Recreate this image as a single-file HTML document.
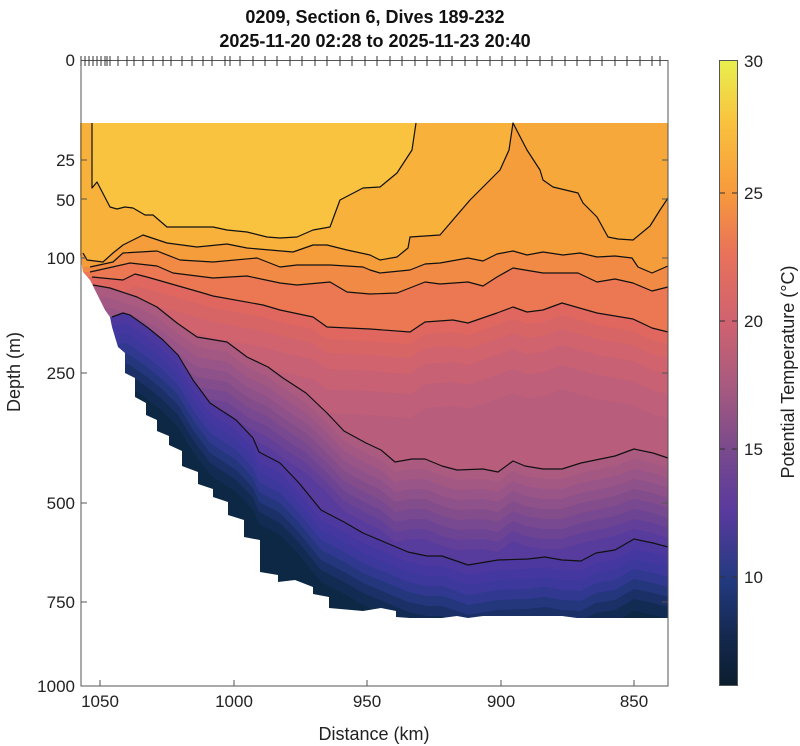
<!DOCTYPE html>
<html><head><meta charset="utf-8"><style>
html,body{margin:0;background:#fff;width:800px;height:746px;overflow:hidden}
svg{display:block;font-family:"Liberation Sans",sans-serif}
</style></head><body>
<svg width="800" height="746" viewBox="0 0 800 746" xmlns="http://www.w3.org/2000/svg">
<defs>
<linearGradient id="cb" x1="0" y1="60" x2="0" y2="686" gradientUnits="userSpaceOnUse">
<stop offset="0" stop-color="#e8f04e"/>
<stop offset="0.1" stop-color="#f9c23e"/>
<stop offset="0.21" stop-color="#f79a3c"/>
<stop offset="0.31" stop-color="#e8725a"/>
<stop offset="0.42" stop-color="#cf6270"/>
<stop offset="0.52" stop-color="#a85a7f"/>
<stop offset="0.62" stop-color="#7a4a8c"/>
<stop offset="0.72" stop-color="#5a3a9e"/>
<stop offset="0.83" stop-color="#233a80"/>
<stop offset="0.92" stop-color="#14284f"/>
<stop offset="1" stop-color="#0b1e2e"/>
</linearGradient>
<path id="A" d="M93,285 L110,288 137,297 157,307 177,323 197,337 227,342 247,357 268,367 283,378 306,393 327,413 344,431 366,443 381,450 395,462 412,459 425,459 442,466 457,470 483,469 498,472 513,461 525,466 543,469 562,469 581,463 615,456 634,449 653,453 668,458 L668,720 80,720 80,285Z"/>
<path id="B" d="M112,317 L123,313 130,315 147,327 163,340 178,355 193,380 210,403 236,420 253,438 259,452 280,463 299,483 321,510 344,522 363,533 408,552 427,556 442,556 468,565 498,560 528,559 545,557 562,560 581,561 596,553 615,550 634,539 653,543 668,547 L668,720 80,720 80,317Z"/>
<path id="L5" d="M92,277 L123,280 135,274 147,277 203,293 213,296 263,305 280,310 313,317 327,327 370,329 410,332 425,322 453,320 468,323 497,313 513,307 527,312 543,310 562,303 597,313 633,319 652,328 668,332 L668,720 80,720 80,277Z"/>
</defs>
<rect x="81" y="123" width="587" height="563" fill="#f9c23f"/>
<path d="M92,123 L92,188 97,182 110,207 117,209 125,207 133,208 145,215 153,215 167,227 197,227 213,227 227,230 247,232 267,237 280,238 297,237 313,230 330,227 340,200 363,188 380,187 397,173 412,150 416,123 L668,123 668,720 80,720 80,123Z" fill="#f8b23c"/>
<path d="M513,123 L527,150 540,170 543,180 553,187 578,193 583,203 597,217 608,237 618,239 633,240 650,226 660,210 668,198 668,123Z" fill="#f7a83a"/>
<path d="M83,253 L87,260 103,262 113,253 123,245 143,235 167,243 197,247 227,244 247,248 293,252 313,245 327,245 347,250 370,255 380,260 397,257 408,248 410,237 440,235 470,200 500,170 509,150 513,123 527,150 540,170 543,180 553,187 578,193 583,203 597,217 608,237 618,239 633,240 650,226 660,210 668,198 L668,720 80,720 80,253Z" fill="#f59c3b"/>
<path d="M90,267 L113,262 123,253 157,251 180,260 213,262 257,258 280,267 297,265 330,265 363,267 370,270 380,273 410,270 425,264 440,263 468,258 483,261 497,254 513,251 527,255 543,252 563,255 580,253 597,257 615,256 632,258 638,267 652,273 668,266 L668,720 80,720 80,267Z" fill="#f18a44"/>
<path d="M90,272 L130,263 157,266 173,273 213,278 247,276 280,283 297,285 330,282 347,292 370,294 397,293 425,282 440,284 468,282 483,286 497,277 513,268 543,273 578,273 597,282 615,279 633,283 652,291 668,287 L668,720 80,720 80,272Z" fill="#eb7852"/>
<use href="#L5" fill="#e0675f"/>
<use href="#L5" fill="#d86566" transform="translate(0,12)"/>
<use href="#L5" fill="#d0636e" transform="translate(0,26)"/>
<use href="#L5" fill="#c86174" transform="translate(0,42)"/>
<use href="#L5" fill="#c05f79" transform="translate(0,62)"/>
<use href="#L5" fill="#b85d7c" transform="translate(0,86)"/>
<use href="#A" fill="#ab5a80"/>
<use href="#A" fill="#a35884" transform="translate(0,10)"/>
<use href="#A" fill="#995587" transform="translate(0,20)"/>
<use href="#A" fill="#8e5189" transform="translate(0,30)"/>
<use href="#A" fill="#834d8c" transform="translate(0,40)"/>
<use href="#A" fill="#784890" transform="translate(0,50)"/>
<use href="#A" fill="#6d4494" transform="translate(0,60)"/>
<use href="#A" fill="#623f99" transform="translate(0,70)"/>
<use href="#A" fill="#573b9d" transform="translate(0,80)"/>
<use href="#B" fill="#4d38a0"/>
<use href="#B" fill="#4537a0" transform="translate(0,10)"/>
<use href="#B" fill="#3c389c" transform="translate(0,20)"/>
<use href="#B" fill="#303890" transform="translate(0,30)"/>
<use href="#B" fill="#24367c" transform="translate(0,40)"/>
<use href="#B" fill="#1a3066" transform="translate(0,50)"/>
<use href="#B" fill="#122b52" transform="translate(0,60)"/>
<use href="#B" fill="#0c2844" transform="translate(0,72)"/>
<g fill="none" stroke="#111" stroke-width="1.2" stroke-linejoin="round">
<polyline points="92,123 92,188 97,182 110,207 117,209 125,207 133,208 145,215 153,215 167,227 197,227 213,227 227,230 247,232 267,237 280,238 297,237 313,230 330,227 340,200 363,188 380,187 397,173 412,150 416,123"/>
<polyline points="83,253 87,260 103,262 113,253 123,245 143,235 167,243 197,247 227,244 247,248 293,252 313,245 327,245 347,250 370,255 380,260 397,257 408,248 410,237 440,235 470,200 500,170 509,150 513,123 527,150 540,170 543,180 553,187 578,193 583,203 597,217 608,237 618,239 633,240 650,226 660,210 668,198"/>
<polyline points="90,267 113,262 123,253 157,251 180,260 213,262 257,258 280,267 297,265 330,265 363,267 370,270 380,273 410,270 425,264 440,263 468,258 483,261 497,254 513,251 527,255 543,252 563,255 580,253 597,257 615,256 632,258 638,267 652,273 668,266"/>
<polyline points="90,272 130,263 157,266 173,273 213,278 247,276 280,283 297,285 330,282 347,292 370,294 397,293 425,282 440,284 468,282 483,286 497,277 513,268 543,273 578,273 597,282 615,279 633,283 652,291 668,287"/>
<polyline points="92,277 123,280 135,274 147,277 203,293 213,296 263,305 280,310 313,317 327,327 370,329 410,332 425,322 453,320 468,323 497,313 513,307 527,312 543,310 562,303 597,313 633,319 652,328 668,332"/>
<polyline points="93,285 110,288 137,297 157,307 177,323 197,337 227,342 247,357 268,367 283,378 306,393 327,413 344,431 366,443 381,450 395,462 412,459 425,459 442,466 457,470 483,469 498,472 513,461 525,466 543,469 562,469 581,463 615,456 634,449 653,453 668,458"/>
<polyline points="112,317 123,313 130,315 147,327 163,340 178,355 193,380 210,403 236,420 253,438 259,452 280,463 299,483 321,510 344,522 363,533 408,552 427,556 442,556 468,565 498,560 528,559 545,557 562,560 581,561 596,553 615,550 634,539 653,543 668,547"/>
</g>
<path d="M80,255 L83,272 90,280 95,290 105,310 110,317 112,327 118,347 125,353 125,373 135,378 135,397 146,403 146,415 157,420 157,431 169,436 169,445 182,451 182,466 198,472 198,484 213,489 213,497 228,502 228,515 244,520 244,537 260,540 260,572 278,575 278,582 295,580 313,587 313,594 329,597 329,608 363,611 381,608 396,611 396,617 410,618 442,618 457,616 468,618 483,616 562,616 577,618 668,618 L668,746 80,746Z" fill="#fff"/>
<rect x="0" y="686" width="800" height="60" fill="#fff"/>
<g stroke="#555" stroke-width="1" fill="none">
<rect x="81" y="60.5" width="587" height="625.5"/>
<path d="M81,160H87M81,199H87M81,258H87M81,373H87M81,503H87M81,602H87M668,160H662M668,199H662M668,258H662M668,373H662M668,503H662M668,602H662"/>
<path d="M100,686V680M234,686V680M367,686V680M501,686V680M634,686V680"/>
</g>
<path stroke="#333" stroke-width="1" fill="none" d="M81,56V66M85,56V66M89,56V66M93,56V66M97,56V66M101,56V66M105,56V66M107,56V66M110,56V66M118,56V66M127,56V66M134,56V66M143,56V66M153,56V66M163,56V66M171,56V66M182,56V66M192,56V66M203,56V66M212,56V66M225,56V66M230,56V66M240,56V66M253,56V66M265,56V66M277,56V66M290,56V66M302,56V66M315,56V66M327,56V66M340,56V66M352,56V66M365,56V66M377,56V66M390,56V66M402,56V66M415,56V66M427,56V66M440,56V66M452,56V66M465,56V66M477,56V66M490,56V66M502,56V66M515,56V66M527,56V66M540,56V66M552,56V66M565,56V66M577,56V66M590,56V66M602,56V66M615,56V66M627,56V66M640,56V66M652,56V66M660,56V66"/>
<g font-size="17" fill="#222" text-anchor="end">
<text x="75" y="66">0</text>
<text x="75" y="166">25</text>
<text x="75" y="206">50</text>
<text x="75" y="264">100</text>
<text x="75" y="379">250</text>
<text x="75" y="509">500</text>
<text x="75" y="608">750</text>
<text x="75" y="692">1000</text>
</g>
<g font-size="17" fill="#222" text-anchor="middle">
<text x="100" y="707">1050</text>
<text x="234" y="707">1000</text>
<text x="367" y="707">950</text>
<text x="501" y="707">900</text>
<text x="634" y="707">850</text>
</g>
<text x="374" y="740" font-size="18" fill="#222" text-anchor="middle">Distance (km)</text>
<text transform="translate(20,372) rotate(-90)" font-size="18" fill="#222" text-anchor="middle">Depth (m)</text>
<g font-size="18" font-weight="bold" fill="#111" text-anchor="middle">
<text x="375" y="23">0209, Section 6, Dives 189-232</text>
<text x="375" y="47">2025-11-20 02:28 to 2025-11-23 20:40</text>
</g>
<rect x="719.5" y="60.5" width="18" height="625" fill="url(#cb)" stroke="#555"/>
<g stroke="#333" stroke-width="1">
<path d="M720,193H725M732,193H737M720,321H725M732,321H737M720,449H725M732,449H737M720,577H725M732,577H737"/>
</g>
<g font-size="17" fill="#222">
<text x="744" y="67">30</text>
<text x="744" y="199">25</text>
<text x="744" y="327">20</text>
<text x="744" y="455">15</text>
<text x="744" y="583">10</text>
</g>
<text transform="translate(794,372) rotate(-90)" font-size="18" fill="#222" text-anchor="middle">Potential Temperature (°C)</text>
</svg>
</body></html>
